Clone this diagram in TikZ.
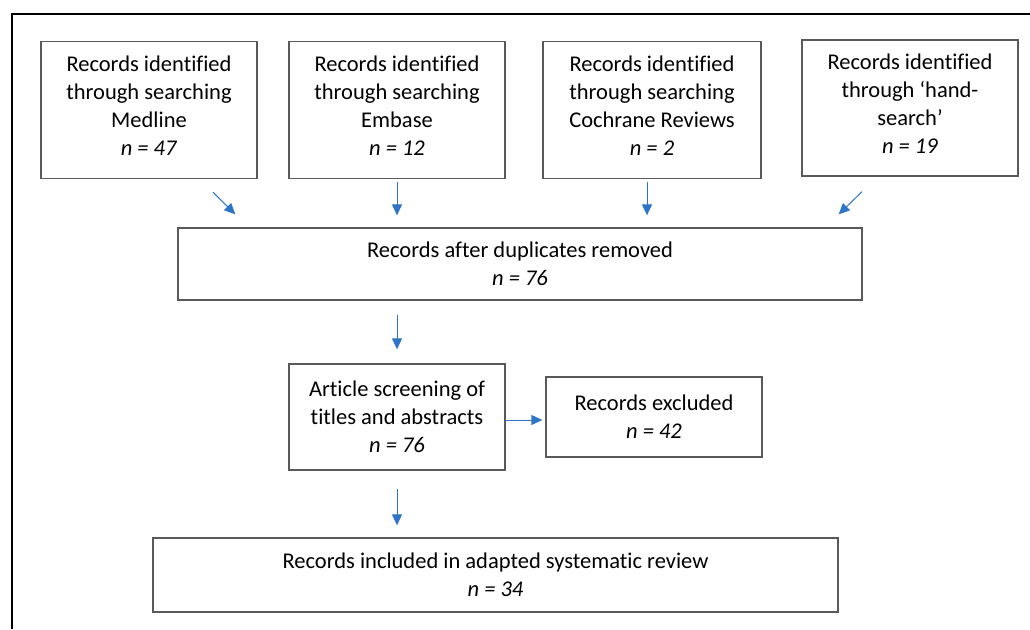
\documentclass[tikz,border=0pt]{standalone}
\usepackage{fontspec}
\setmainfont{Carlito}[Ligatures=NoCommon]
\usetikzlibrary{calc,arrows.meta}
\definecolor{arrowblue}{RGB}{46,117,200}
\tikzset{
  recbox/.style={draw=black!65, line width=1.3pt, align=center, inner sep=0pt,
    font=\fontsize{22.5}{28}\selectfont},
  flow/.style={draw=arrowblue, line width=1pt,
    -{Triangle[length=11pt,width=10pt,fill=arrowblue]}},
}
\begin{document}
\begin{tikzpicture}[x=1pt, y=-1pt]
        \useasboundingbox (0,0) rectangle (1030,629);
        % frame
        \draw[line width=2pt] (12,629) -- (12,14) -- (1030,14);
        % row 1
        \node[recbox, minimum width=216, minimum height=137] (medline) at (149,110)
            {Records identified\\through searching\\Medline\\\textit{n = 47}\\[-20pt]};
        \node[recbox, minimum width=216, minimum height=137] (embase) at (397,110)
            {Records identified\\through searching\\Embase\\\textit{n = 12}\\[-20pt]};
        \node[recbox, minimum width=218, minimum height=137] (cochrane) at (652,110)
            {Records identified\\through searching\\Cochrane Reviews\\\textit{n = 2}\\[-20pt]};
        \node[recbox, minimum width=216, minimum height=136] (hand) at (910,108)
            {Records identified\\through ‘hand-\\search’\\\textit{n = 19}\\[-20pt]};
        % row 2
        \node[recbox, minimum width=684, minimum height=72] (dups) at (520,264)
            {Records after duplicates removed\\\textit{n = 76}};
        % row 3
        \node[recbox, minimum width=216, minimum height=106] (screen) at (397,417)
            {Article screening of\\titles and abstracts\\\textit{n = 76}};
        \node[recbox, minimum width=216, minimum height=80] (excluded) at (654,417)
            {Records excluded\\\textit{n = 42}};
        % row 4
        \node[recbox, minimum width=685, minimum height=74] (included) at (495.5,575)
            {Records included in adapted systematic review\\\textit{n = 34}};
        % arrows
        \draw[flow] ($(medline.south)+(64,13)$) -- ($(dups.north west)+(58,-13)$);
        \draw[flow, shorten <=3pt, shorten >=12pt] (embase.south) -- (embase.south |- dups.north);
        \draw[flow, shorten <=3pt, shorten >=12pt] ($(cochrane.south)+(-5,0)$) -- ($(cochrane.south |- dups.north)+(-5,0)$);
        \draw[flow] ($(hand.south)+(-48,15)$) -- ($(dups.north east)+(-24,-13)$);
        \draw[flow, shorten <=14pt, shorten >=14pt] (dups.south -| screen) -- (screen.north);
        \draw[flow, shorten >=3pt] (screen.east |- 0,420) -- (excluded.west |- 0,420);
        \draw[flow, shorten <=18pt, shorten >=12pt] (screen.south) -- (screen.south |- included.north);
\end{tikzpicture}
\end{document}
